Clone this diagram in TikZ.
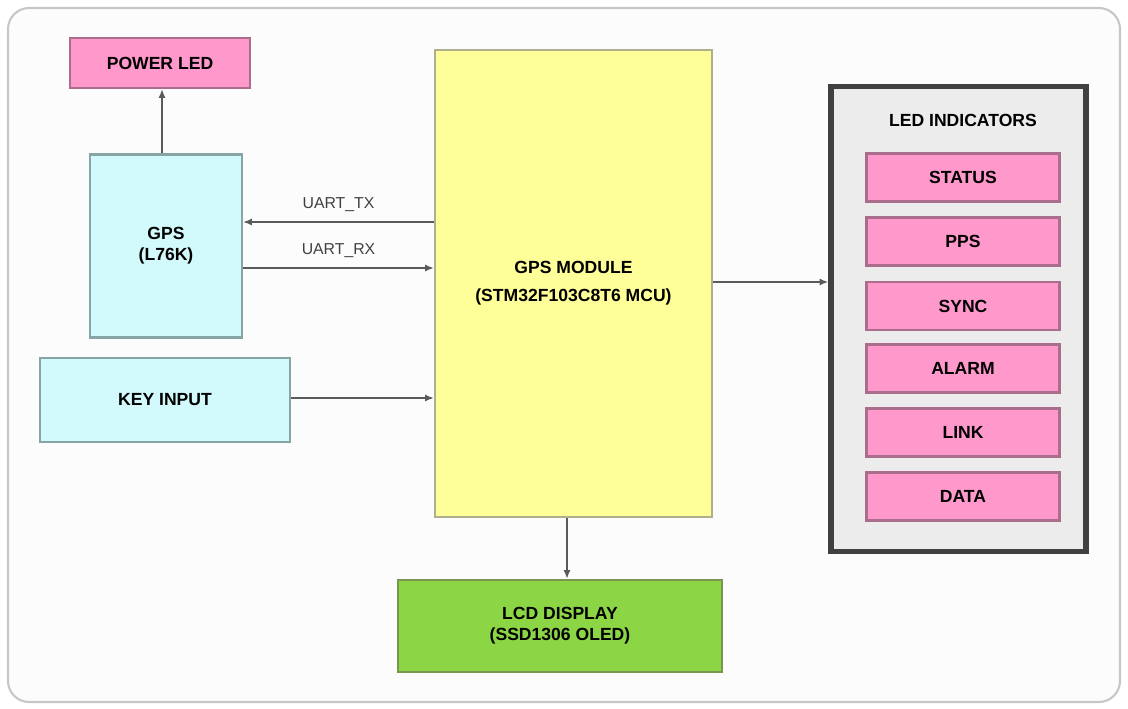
\documentclass[tikz,border=0pt]{standalone}
\usepackage{fontspec}
\setmainfont{Liberation Sans}
\usetikzlibrary{arrows.meta,positioning}
\definecolor{ledpink}{RGB}{255,153,204}
\definecolor{ledline}{RGB}{170,110,140}
\definecolor{gpscyan}{RGB}{210,250,252}
\definecolor{gpsline}{RGB}{135,165,165}
\definecolor{mcuyellow}{RGB}{255,255,153}
\definecolor{mculine}{RGB}{175,175,140}
\definecolor{lcdgreen}{RGB}{140,214,70}
\definecolor{lcdline}{RGB}{120,150,80}
\definecolor{panelgray}{RGB}{236,236,236}
\definecolor{wire}{RGB}{90,90,90}

\begin{document}
\begin{tikzpicture}[
  x=0.02cm,y=-0.02cm,
  font=\fontsize{10}{12}\selectfont\bfseries,
  block/.style={draw,line width=1.2pt,align=center,inner sep=0pt},
  led/.style={block,fill=ledpink,draw=ledline,minimum width=3.86cm,minimum height=0.96cm},
  arr/.style={-{Latex[length=5pt,width=4pt]},draw=wire,line width=1pt},
]
\useasboundingbox (0,0) rectangle (1128,709);
% frame
\draw[rounded corners=12pt,draw=black!22,line width=1.2pt,fill=gray!2] (8,8) rectangle (1120,702);

\node[block,fill=ledpink,draw=ledline,minimum width=3.6cm,minimum height=1cm] (pwr) at (160,63) {POWER LED};
\node[block,fill=gpscyan,draw=gpsline,minimum width=3.04cm,minimum height=3.66cm] (gps) at (166,246) {GPS\\(L76K)};
\node[block,fill=gpscyan,draw=gpsline,minimum width=5cm,minimum height=1.68cm] (key) at (165,400) {KEY INPUT};
\node[block,fill=mcuyellow,draw=mculine,minimum width=5.54cm,minimum height=9.34cm] (mcu) at (573.5,283.5) {GPS MODULE\\[4pt](STM32F103C8T6 MCU)};
\node[block,fill=lcdgreen,draw=lcdline,minimum width=6.48cm,minimum height=1.84cm] (lcd) at (560,626) {LCD DISPLAY\\(SSD1306 OLED)};

% led panel
\node[draw=black!75,line width=3pt,fill=panelgray,minimum width=5.1cm,minimum height=9.3cm] (panel) at (958.5,319) {};
\node (title) at (963,120) {LED INDICATORS};
\node[led] (l1) at (963,177.5) {STATUS};
\node[led] (l2) at (963,241.5) {PPS};
\node[led] (l3) at (963,306) {SYNC};
\node[led] (l4) at (963,368.5) {ALARM};
\node[led] (l5) at (963,432.5) {LINK};
\node[led] (l6) at (963,496.5) {DATA};

% connections
\draw[arr] (gps.north -| 162,0) -- (pwr.south -| 162,0);
\draw[arr] (mcu.west |- 0,222) -- (gps.east |- 0,222) node[midway,above=2pt,font=\fontsize{9}{11}\selectfont,text=black!75] {UART\_TX};
\draw[arr] (gps.east |- 0,268) -- (mcu.west |- 0,268) node[midway,above=2pt,font=\fontsize{9}{11}\selectfont,text=black!75] {UART\_RX};
\draw[arr] (key.east |- 0,398) -- (mcu.west |- 0,398);
\draw[arr] (mcu.east |- 0,282) -- (panel.west |- 0,282);
\draw[arr] (mcu.south -| 567,0) -- (lcd.north -| 567,0);
\end{tikzpicture}
\end{document}
